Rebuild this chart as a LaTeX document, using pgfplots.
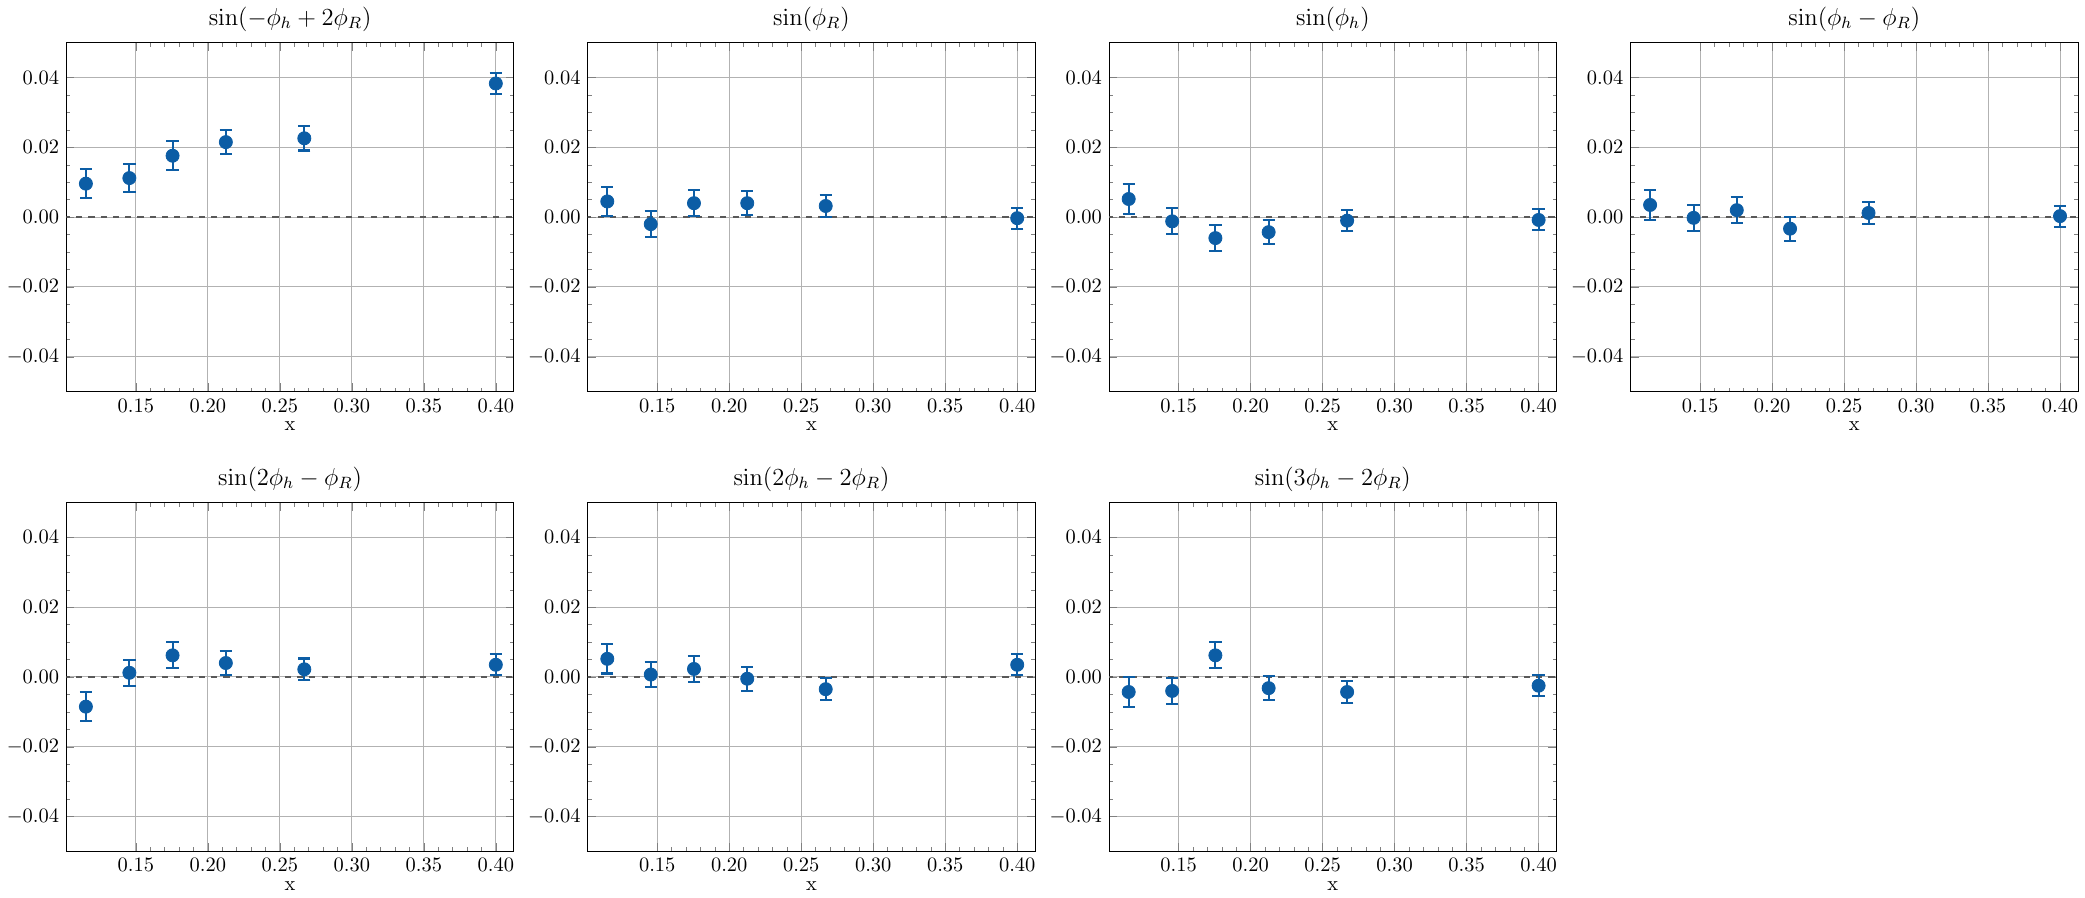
\documentclass[border=0pt]{standalone}
\usepackage{pgfplots}
\pgfplotsset{compat=1.18}
\usepgfplotslibrary{groupplots}
\definecolor{sp}{HTML}{0C5DA5}
\pgfplotsset{
  myax/.style={scale only axis, width=218bp, height=170bp,
    xmin=0.1017, xmax=0.4125, ymin=-0.05, ymax=0.05,
    xtick={0.15,0.20,...,0.40}, ytick={-0.04,-0.02,0,0.02,0.04},
    minor x tick num=4, minor y tick num=3,
    xticklabel style={/pgf/number format/.cd,fixed,fixed zerofill,precision=2},
    yticklabel style={/pgf/number format/.cd,fixed,fixed zerofill,precision=2},
    scaled ticks=false,
    tick align=inside, xtick pos=both, ytick pos=both,
    major tick length=4pt, minor tick length=2pt,
    grid=major, grid style={gray!60, line width=0.5pt},
    xlabel={x}, ticklabel style={font=\normalsize}, label style={font=\normalsize},
    xlabel style={yshift=2pt},
    title style={font=\large, yshift=-4pt},
  },
  pts/.style={only marks, color=sp, mark=*, mark size=3.2pt,
    error bars/.cd, y dir=both, y explicit, error mark options={rotate=90, mark size=3pt, line width=1pt}, error bar style={line width=1pt}},
}
\newcommand{\zero}{\addplot[black!65, dashed, line width=0.8pt] coordinates {(0.1,0) (0.42,0)};}
\begin{document}
\begin{tikzpicture}
\begin{groupplot}[group style={group size=4 by 2, horizontal sep=36bp, vertical sep=54bp}, myax]
\nextgroupplot[title={$\sin(-\phi_h+2\phi_R)$}]
\zero
\addplot[pts] coordinates {(0.1153,0.0096) +- (0,0.0042) (0.1455,0.0112) +- (0,0.004) (0.1755,0.0176) +- (0,0.0041) (0.2125,0.0215) +- (0,0.0035) (0.267,0.0226) +- (0,0.0035) (0.400,0.0383) +- (0,0.003)};
\nextgroupplot[title={$\sin(\phi_R)$}]
\zero
\addplot[pts] coordinates {(0.1153,0.0045) +- (0,0.0042) (0.1455,-0.002) +- (0,0.0037) (0.1755,0.004) +- (0,0.0037) (0.2125,0.004) +- (0,0.0034) (0.267,0.0032) +- (0,0.0031) (0.400,-0.0003) +- (0,0.003)};
\nextgroupplot[title={$\sin(\phi_h)$}]
\zero
\addplot[pts] coordinates {(0.1153,0.0052) +- (0,0.0042) (0.1455,-0.0012) +- (0,0.0037) (0.1755,-0.006) +- (0,0.0037) (0.2125,-0.0043) +- (0,0.0034) (0.267,-0.001) +- (0,0.0031) (0.400,-0.0008) +- (0,0.003)};
\nextgroupplot[title={$\sin(\phi_h-\phi_R)$}]
\zero
\addplot[pts] coordinates {(0.1153,0.0035) +- (0,0.0042) (0.1455,-0.0002) +- (0,0.0037) (0.1755,0.002) +- (0,0.0037) (0.2125,-0.0033) +- (0,0.0034) (0.267,0.0012) +- (0,0.0031) (0.400,0.0003) +- (0,0.003)};
\nextgroupplot[title={$\sin(2\phi_h-\phi_R)$}]
\zero
\addplot[pts] coordinates {(0.1153,-0.0085) +- (0,0.0042) (0.1455,0.0012) +- (0,0.0037) (0.1755,0.0062) +- (0,0.0037) (0.2125,0.004) +- (0,0.0034) (0.267,0.0022) +- (0,0.0031) (0.400,0.0035) +- (0,0.003)};
\nextgroupplot[title={$\sin(2\phi_h-2\phi_R)$}]
\zero
\addplot[pts] coordinates {(0.1153,0.0052) +- (0,0.0042) (0.1455,0.0007) +- (0,0.0037) (0.1755,0.0023) +- (0,0.0037) (0.2125,-0.0005) +- (0,0.0034) (0.267,-0.0035) +- (0,0.0031) (0.400,0.0035) +- (0,0.003)};
\nextgroupplot[title={$\sin(3\phi_h-2\phi_R)$}]
\zero
\addplot[pts] coordinates {(0.1153,-0.0043) +- (0,0.0042) (0.1455,-0.004) +- (0,0.0037) (0.1755,0.0062) +- (0,0.0037) (0.2125,-0.0032) +- (0,0.0034) (0.267,-0.0043) +- (0,0.0031) (0.400,-0.0025) +- (0,0.003)};
\nextgroupplot[hide axis, xlabel={}]
\end{groupplot}
\end{tikzpicture}
\end{document}
